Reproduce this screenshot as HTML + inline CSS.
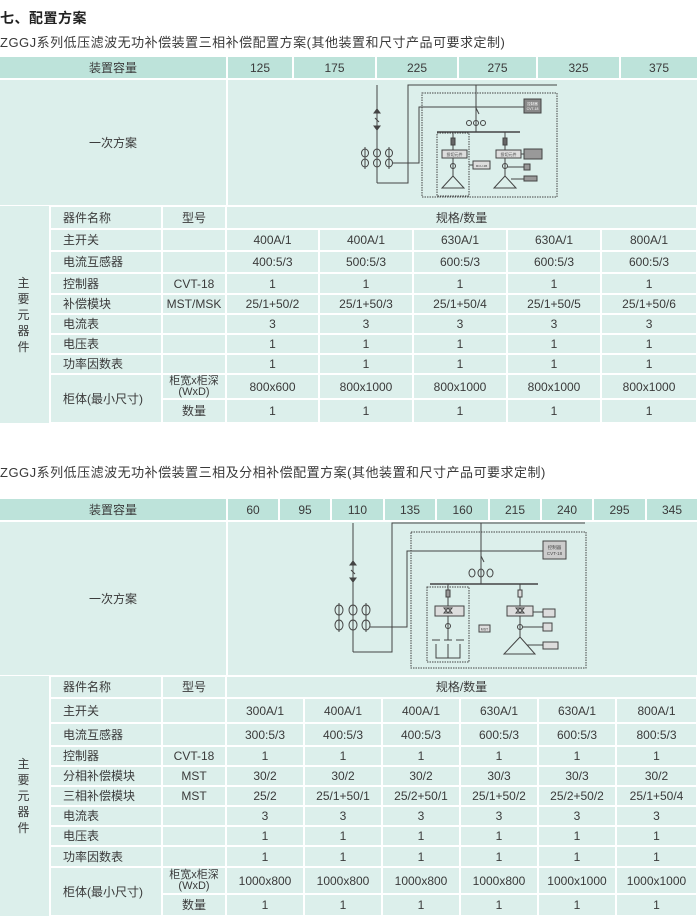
<!DOCTYPE html>
<html><head><meta charset="utf-8">
<style>
body{margin:0;background:#fff;width:700px;height:917px;position:relative;overflow:hidden;font-family:"Liberation Sans","Noto Sans CJK SC",sans-serif;color:#3a3a3a}
.t{position:absolute;left:0;white-space:nowrap}
table{position:absolute;left:-2px;border-collapse:collapse;table-layout:fixed;font-size:12px}
td{border:2px solid #fff;padding:0;text-align:center;background:#dcefeb;overflow:hidden;white-space:nowrap;line-height:12px}
tr.h td{background:#bde3da}
td.l{text-align:left;padding-left:12px}
td.side{border:none;border-right:2px solid #fff;line-height:16px}
.sm{font-size:11px;line-height:11px}
svg{position:absolute;left:0;top:0}
</style></head><body>
<div class="t" style="top:8px;font-size:14px;font-weight:bold;color:#222;letter-spacing:0.5px">七、配置方案</div>
<div class="t" style="top:32px;font-size:13px;letter-spacing:0.5px">ZGGJ系列低压滤波无功补偿装置三相补偿配置方案(其他装置和尺寸产品可要求定制)</div>

<table style="top:55px;width:699px">
<colgroup><col style="width:228px"><col style="width:66px"><col style="width:83px"><col style="width:82px"><col style="width:79px"><col style="width:83px"><col style="width:78px"></colgroup>
<tr class="h" style="height:23px"><td>装置容量</td><td>125</td><td>175</td><td>225</td><td>275</td><td>325</td><td>375</td></tr>
<tr style="height:127px"><td>一次方案</td><td colspan="6"></td></tr>
</table>
<table style="top:205px;width:699px">
<colgroup><col style="width:52px"><col style="width:112px"><col style="width:64px"><col style="width:93px"><col style="width:94px"><col style="width:94px"><col style="width:94px"><col style="width:96px"></colgroup>
<tr style="height:23px"><td rowspan="10" class="side">主<br>要<br>元<br>器<br>件</td><td class="l">器件名称</td><td>型号</td><td colspan="5">规格/数量</td></tr>
<tr style="height:22px"><td class="l">主开关</td><td></td><td>400A/1</td><td>400A/1</td><td>630A/1</td><td>630A/1</td><td>800A/1</td></tr>
<tr style="height:22px"><td class="l">电流互感器</td><td></td><td>400:5/3</td><td>500:5/3</td><td>600:5/3</td><td>600:5/3</td><td>600:5/3</td></tr>
<tr style="height:21px"><td class="l">控制器</td><td>CVT-18</td><td>1</td><td>1</td><td>1</td><td>1</td><td>1</td></tr>
<tr style="height:20px"><td class="l">补偿模块</td><td>MST/MSK</td><td>25/1+50/2</td><td>25/1+50/3</td><td>25/1+50/4</td><td>25/1+50/5</td><td>25/1+50/6</td></tr>
<tr style="height:20px"><td class="l">电流表</td><td></td><td>3</td><td>3</td><td>3</td><td>3</td><td>3</td></tr>
<tr style="height:20px"><td class="l">电压表</td><td></td><td>1</td><td>1</td><td>1</td><td>1</td><td>1</td></tr>
<tr style="height:20px"><td class="l">功率因数表</td><td></td><td>1</td><td>1</td><td>1</td><td>1</td><td>1</td></tr>
<tr style="height:25px"><td class="l" rowspan="2">柜体(最小尺寸)</td><td class="sm">柜宽x柜深<br>(WxD)</td><td>800x600</td><td>800x1000</td><td>800x1000</td><td>800x1000</td><td>800x1000</td></tr>
<tr style="height:24px"><td>数量</td><td>1</td><td>1</td><td>1</td><td>1</td><td>1</td></tr>
</table>

<div class="t" style="top:462px;font-size:13px;letter-spacing:0.5px">ZGGJ系列低压滤波无功补偿装置三相及分相补偿配置方案(其他装置和尺寸产品可要求定制)</div>

<table style="top:497px;width:699px">
<colgroup><col style="width:228px"><col style="width:52px"><col style="width:52px"><col style="width:53px"><col style="width:52px"><col style="width:53px"><col style="width:52px"><col style="width:52px"><col style="width:53px"><col style="width:52px"></colgroup>
<tr class="h" style="height:23px"><td>装置容量</td><td>60</td><td>95</td><td>110</td><td>135</td><td>160</td><td>215</td><td>240</td><td>295</td><td>345</td></tr>
<tr style="height:155px"><td>一次方案</td><td colspan="9"></td></tr>
</table>
<table style="top:675px;width:699px">
<colgroup><col style="width:52px"><col style="width:112px"><col style="width:64px"><col style="width:78px"><col style="width:78px"><col style="width:78px"><col style="width:78px"><col style="width:78px"><col style="width:81px"></colgroup>
<tr style="height:22px"><td rowspan="11" class="side">主<br>要<br>元<br>器<br>件</td><td class="l">器件名称</td><td>型号</td><td colspan="6">规格/数量</td></tr>
<tr style="height:25px"><td class="l">主开关</td><td></td><td>300A/1</td><td>400A/1</td><td>400A/1</td><td>630A/1</td><td>630A/1</td><td>800A/1</td></tr>
<tr style="height:23px"><td class="l">电流互感器</td><td></td><td>300:5/3</td><td>400:5/3</td><td>400:5/3</td><td>600:5/3</td><td>600:5/3</td><td>800:5/3</td></tr>
<tr style="height:20px"><td class="l">控制器</td><td>CVT-18</td><td>1</td><td>1</td><td>1</td><td>1</td><td>1</td><td>1</td></tr>
<tr style="height:20px"><td class="l">分相补偿模块</td><td>MST</td><td>30/2</td><td>30/2</td><td>30/2</td><td>30/3</td><td>30/3</td><td>30/2</td></tr>
<tr style="height:20px"><td class="l">三相补偿模块</td><td>MST</td><td>25/2</td><td>25/1+50/1</td><td>25/2+50/1</td><td>25/1+50/2</td><td>25/2+50/2</td><td>25/1+50/4</td></tr>
<tr style="height:20px"><td class="l">电流表</td><td></td><td>3</td><td>3</td><td>3</td><td>3</td><td>3</td><td>3</td></tr>
<tr style="height:20px"><td class="l">电压表</td><td></td><td>1</td><td>1</td><td>1</td><td>1</td><td>1</td><td>1</td></tr>
<tr style="height:21px"><td class="l">功率因数表</td><td></td><td>1</td><td>1</td><td>1</td><td>1</td><td>1</td><td>1</td></tr>
<tr style="height:27px"><td class="l" rowspan="2">柜体(最小尺寸)</td><td class="sm">柜宽x柜深<br>(WxD)</td><td>1000x800</td><td>1000x800</td><td>1000x800</td><td>1000x800</td><td>1000x1000</td><td>1000x1000</td></tr>
<tr style="height:22px"><td>数量</td><td>1</td><td>1</td><td>1</td><td>1</td><td>1</td><td>1</td></tr>
</table>

<svg width="700" height="917" viewBox="0 0 700 917" fill="none" stroke="#444" stroke-width="1">
<g>
<line x1="377" y1="85" x2="377" y2="183"/>
<path d="M374 113 l3 -4 l3 4 z M374 126 l3 4 l3 -4z" fill="#444"/>
<line x1="375" y1="118" x2="379" y2="122"/>
<polyline points="377,183 408,183 408,85 557,85"/>
<g>
<ellipse cx="365" cy="153" rx="3.5" ry="4"/><ellipse cx="377" cy="153" rx="3.5" ry="4"/><ellipse cx="389" cy="153" rx="3.5" ry="4"/>
<ellipse cx="365" cy="163" rx="3.5" ry="4"/><ellipse cx="377" cy="163" rx="3.5" ry="4"/><ellipse cx="389" cy="163" rx="3.5" ry="4"/>
<line x1="365" y1="147" x2="365" y2="169"/><line x1="389" y1="147" x2="389" y2="169"/>
</g>
<polyline points="393,163 419,163 419,107 524,107"/>
<rect x="422" y="93" width="135" height="104" stroke-dasharray="1.5 1"/>
<line x1="476" y1="85" x2="476" y2="132"/>
<line x1="476" y1="108" x2="479" y2="114"/>
<circle cx="469" cy="123" r="2.5"/><circle cx="476" cy="123" r="2.5"/><circle cx="483" cy="123" r="2.5"/>
<line x1="437" y1="132" x2="520" y2="132" stroke-width="1.5"/>
<rect x="524" y="99" width="17" height="14" fill="#888"/>
<text x="532.5" y="105" font-size="3.5" fill="#fff" stroke="none" text-anchor="middle">控制器</text>
<text x="532.5" y="110" font-size="3.5" fill="#fff" stroke="none" text-anchor="middle">CVT-18</text>
<rect x="437" y="133" width="32" height="63" stroke-dasharray="1.5 1"/>
<line x1="453" y1="132" x2="453" y2="176"/>
<rect x="451" y="138" width="4" height="7" fill="#666"/>
<rect x="442" y="150" width="25" height="8" fill="#ddd"/>
<text x="454.5" y="156" font-size="4" fill="#444" stroke="none" text-anchor="middle">投切元件</text>
<circle cx="453" cy="166" r="2.5"/>
<path d="M453 176 L442 188 L464 188 Z"/>
<line x1="469" y1="165" x2="473" y2="165"/>
<rect x="473" y="161" width="17" height="8" fill="#ddd"/>
<text x="481.5" y="167" font-size="3" fill="#444" stroke="none" text-anchor="middle">MCU-3B</text>
<line x1="505" y1="132" x2="505" y2="176"/>
<rect x="503" y="138" width="4" height="7" fill="#666"/>
<rect x="496" y="150" width="25" height="8" fill="#ddd"/>
<text x="508.5" y="156" font-size="4" fill="#444" stroke="none" text-anchor="middle">投切元件</text>
<line x1="521" y1="154" x2="524" y2="154"/>
<rect x="524" y="149" width="18" height="10" fill="#999"/>
<circle cx="505" cy="166" r="2.5"/>
<line x1="507" y1="167" x2="524" y2="167"/>
<rect x="524" y="164" width="6" height="6" fill="#999"/>
<path d="M505 176 L494 188 L516 188 Z"/>
<line x1="511" y1="179" x2="524" y2="179"/>
<rect x="524" y="176" width="13" height="5" fill="#999"/>
</g>
<g>
<line x1="353" y1="523" x2="353" y2="652"/>
<path d="M350 565 l3 -4 l3 4 z M350 578 l3 4 l3 -4z" fill="#444"/>
<line x1="351" y1="570" x2="355" y2="574"/>
<polyline points="353,652 392,652 392,523 585,523"/>
<g>
<ellipse cx="339" cy="610" rx="4" ry="5"/><ellipse cx="353" cy="610" rx="4" ry="5"/><ellipse cx="366" cy="610" rx="4" ry="5"/>
<ellipse cx="339" cy="625" rx="4" ry="5"/><ellipse cx="353" cy="625" rx="4" ry="5"/><ellipse cx="366" cy="625" rx="4" ry="5"/>
<line x1="339" y1="603" x2="339" y2="632"/><line x1="366" y1="603" x2="366" y2="632"/>
</g>
<polyline points="370,627 407,627 407,551 543,551"/>
<rect x="411" y="532" width="175" height="136" stroke-dasharray="1.5 1"/>
<line x1="481" y1="523" x2="481" y2="584"/>
<line x1="481" y1="556" x2="484" y2="562"/>
<ellipse cx="472" cy="573" rx="3" ry="4"/><ellipse cx="481" cy="573" rx="3" ry="4"/><ellipse cx="490" cy="573" rx="3" ry="4"/>
<line x1="430" y1="584" x2="538" y2="584" stroke-width="1.5"/>
<rect x="543" y="541" width="23" height="18" fill="#ccc"/>
<text x="554.5" y="549" font-size="4.5" fill="#444" stroke="none" text-anchor="middle">控制器</text>
<text x="554.5" y="555" font-size="4.5" fill="#444" stroke="none" text-anchor="middle">CVT-18</text>
<rect x="427" y="587" width="42" height="75" stroke-dasharray="1.5 1"/>
<line x1="448" y1="584" x2="448" y2="640"/>
<rect x="446" y="590" width="4" height="7" fill="#999"/>
<rect x="435" y="606" width="29" height="10" fill="#ddd"/>
<path d="M444 613 l4 -5 l4 5 z M444 608 l4 5 l4 -5z"/>
<circle cx="448" cy="626" r="2.5"/>
<line x1="432" y1="640" x2="440" y2="640"/><line x1="444" y1="640" x2="452" y2="640"/><line x1="456" y1="640" x2="464" y2="640"/>
<polyline points="436,644 436,658 460,658 460,644"/><line x1="448" y1="644" x2="448" y2="658"/>
<rect x="479" y="625" width="11" height="7" fill="#ddd"/>
<text x="484.5" y="630.5" font-size="3.5" fill="#444" stroke="none" text-anchor="middle">MST</text>
<line x1="520" y1="584" x2="520" y2="637"/>
<rect x="518" y="590" width="4" height="7" fill="#ddd"/>
<rect x="507" y="606" width="26" height="10" fill="#ddd"/>
<path d="M516 613 l4 -5 l4 5 z M516 608 l4 5 l4 -5z"/>
<line x1="533" y1="612" x2="543" y2="612"/>
<rect x="543" y="609" width="12" height="8" fill="#ddd"/>
<circle cx="520" cy="627" r="2.5"/>
<line x1="522" y1="627" x2="543" y2="627"/>
<rect x="543" y="623" width="9" height="8" fill="#ddd"/>
<path d="M520 637 L504 654 L535 654 Z"/>
<line x1="527" y1="645" x2="543" y2="645"/>
<rect x="543" y="642" width="15" height="7" fill="#ddd"/>
</g>
</svg>
</body></html>
